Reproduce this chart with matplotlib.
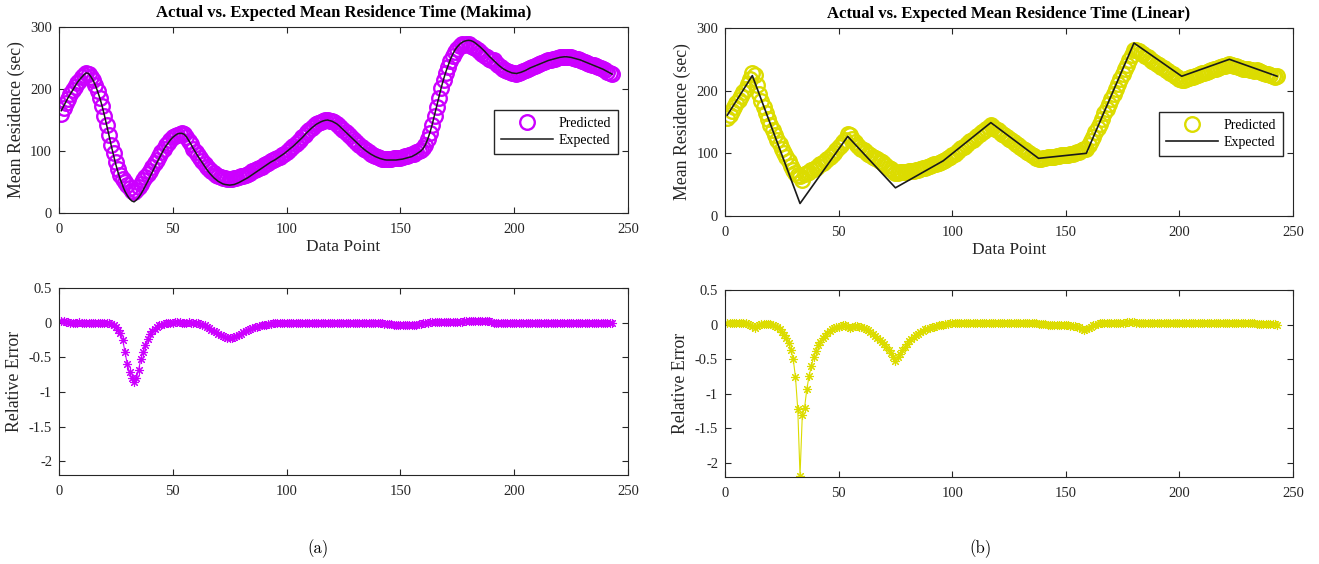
import numpy as np
import matplotlib.pyplot as plt
from matplotlib.ticker import FuncFormatter

plt.rcParams['font.family'] = ['Liberation Serif', 'DejaVu Serif']
plt.rcParams['axes.unicode_minus'] = False

# data point index 1..243
x_pts = list(range(1, 244))

# ---- (a) makima ----
makima_expected = [
    165, 172, 179, 186, 192, 198, 204, 210, 215, 219,
    223, 226, 225, 220, 214, 206, 196, 185, 172, 157,
    141, 125, 108, 93, 78, 65, 54, 44, 35, 28.5,
    23, 19.5, 18, 21, 25, 30.5, 37, 44, 51, 58.5,
    66, 73.5, 81, 88, 95, 102, 108, 113, 118, 122,
    125, 127.5, 128.5, 128.5, 127, 123, 117, 111, 104, 98,
    92, 86.5, 81, 75.5, 70, 65, 61, 57, 54, 51,
    49, 47, 46, 45.5, 45, 45.5, 46, 47.5, 49, 51,
    53, 55, 57, 59.5, 62, 64.5, 67, 69.5, 72, 74.5,
    77, 79.5, 82, 84, 86, 88.5, 91, 93.5, 96, 99,
    102, 105, 108, 111.5, 115, 118.5, 122, 126, 130, 133.5,
    137, 140, 143, 145, 147, 148.5, 149.5, 150, 149, 148,
    146, 144, 141, 137.5, 134, 130.5, 127, 123.5, 120, 116.5,
    113, 109.5, 106, 103, 100, 97.5, 95, 93, 91, 89.5,
    88, 87, 86, 85.5, 85.5, 85.5, 85.5, 85.5, 86, 86.5,
    87, 88, 89, 90, 91, 93, 95, 97.5, 100, 104,
    110, 119, 130, 143, 158, 173, 188, 203, 216, 228,
    238, 248, 256, 263, 268, 272, 275, 277, 278, 278.5,
    278, 276.5, 274, 271, 268, 264.5, 261, 257, 253, 249.5,
    246, 242.5, 239, 236, 233, 231, 229, 227.5, 226, 225.5,
    225, 226, 227, 228.5, 230, 232, 234, 235.5, 237, 238.5,
    240, 241.5, 243, 244.5, 246, 247, 248, 249, 250, 251,
    251.5, 252, 252, 251.5, 251, 250, 249, 248, 247, 245.5,
    244, 242.5, 241, 239.5, 238, 236.5, 235, 233.5, 232, 230,
    228, 226, 224]

makima_predicted = [
    160, 168.6, 177.2, 184.1, 192, 198, 204, 210, 212.9, 219,
    223, 226, 225, 220, 214, 206, 196, 185, 172, 157,
    142.4, 126.3, 110.2, 96.7, 82.7, 71.5, 62.1, 55, 49.7, 45.6,
    39.6, 35.1, 33.5, 37.8, 42, 46.4, 52.5, 58.5, 63.2, 68.4,
    73.9, 80.1, 85.9, 91.5, 97.9, 104, 109.1, 113, 118, 122,
    123.8, 126.2, 127.2, 128.5, 127, 123, 115.8, 111, 104, 98,
    92.9, 88.2, 83.4, 78.5, 74.2, 70.2, 67.1, 63.8, 61.6, 59.2,
    57.8, 56.4, 55.7, 55.5, 54.9, 55.5, 55.7, 57, 57.8, 59.2,
    60.4, 61.6, 63.3, 64.9, 67, 69, 71, 73, 74.9, 76.7,
    79.3, 81.1, 83.6, 84.8, 86.9, 88.5, 91, 93.5, 96, 99,
    102, 105, 108, 111.5, 115, 118.5, 122, 126, 130, 133.5,
    137, 140, 143, 145, 147, 148.5, 149.5, 150, 149, 148,
    146, 144, 141, 137.5, 134, 130.5, 127, 123.5, 120, 116.5,
    113, 109.5, 106, 103, 101, 98.5, 96, 93.9, 91.9, 90.4,
    88.9, 87.9, 87.7, 87.2, 87.2, 87.2, 88.1, 88.1, 88.6, 89.1,
    90.5, 91.5, 92.6, 93.6, 94.6, 95.8, 97.9, 99.5, 102, 105,
    110, 119, 128.7, 141.6, 156.4, 171.3, 186.1, 201, 213.8, 225.7,
    235.6, 245.5, 253.4, 260.4, 265.3, 269.3, 272.3, 271.5, 272.4, 272.9,
    269.7, 268.2, 265.8, 262.9, 260, 256.6, 253.2, 251.9, 248, 247,
    246, 242.5, 239, 236, 233, 231, 229, 227.5, 226, 225.5,
    225, 226, 227, 228.5, 230, 232, 234, 235.5, 237, 238.5,
    240, 241.5, 243, 244.5, 246, 247, 248, 249, 250, 251,
    251.5, 252, 252, 251.5, 251, 250, 249, 248, 247, 245.5,
    244, 242.5, 241, 239.5, 238, 236.5, 235, 233.5, 232, 230,
    228, 226, 224]

makima_error = [
    0.03, 0.02, 0.01, 0.01, 0.0, 0.0, 0.0, 0.0, 0.01, 0.0,
    0.0, 0.0, 0.0, 0.0, 0.0, 0.0, 0.0, 0.0, 0.0, 0.0,
    -0.01, -0.01, -0.02, -0.04, -0.06, -0.1, -0.15, -0.25, -0.42, -0.6,
    -0.72, -0.8, -0.86, -0.8, -0.68, -0.52, -0.42, -0.33, -0.24, -0.17,
    -0.12, -0.09, -0.06, -0.04, -0.03, -0.02, -0.01, 0.0, 0.0, 0.0,
    0.01, 0.01, 0.01, 0.0, 0.0, 0.0, 0.01, 0.0, 0.0, 0.0,
    -0.01, -0.02, -0.03, -0.04, -0.06, -0.08, -0.1, -0.12, -0.14, -0.16,
    -0.18, -0.2, -0.21, -0.22, -0.22, -0.22, -0.21, -0.2, -0.18, -0.16,
    -0.14, -0.12, -0.11, -0.09, -0.08, -0.07, -0.06, -0.05, -0.04, -0.03,
    -0.03, -0.02, -0.02, -0.01, -0.01, 0.0, 0.0, 0.0, 0.0, 0.0,
    0.0, 0.0, 0.0, 0.0, 0.0, 0.0, 0.0, 0.0, 0.0, 0.0,
    0.0, 0.0, 0.0, 0.0, 0.0, 0.0, 0.0, 0.0, 0.0, 0.0,
    0.0, 0.0, 0.0, 0.0, 0.0, 0.0, 0.0, 0.0, 0.0, 0.0,
    0.0, 0.0, 0.0, 0.0, -0.01, -0.01, -0.01, -0.01, -0.01, -0.01,
    -0.01, -0.01, -0.02, -0.02, -0.02, -0.02, -0.03, -0.03, -0.03, -0.03,
    -0.04, -0.04, -0.04, -0.04, -0.04, -0.03, -0.03, -0.02, -0.02, -0.01,
    0.0, 0.0, 0.01, 0.01, 0.01, 0.01, 0.01, 0.01, 0.01, 0.01,
    0.01, 0.01, 0.01, 0.01, 0.01, 0.01, 0.01, 0.02, 0.02, 0.02,
    0.03, 0.03, 0.03, 0.03, 0.03, 0.03, 0.03, 0.02, 0.02, 0.01,
    0.0, 0.0, 0.0, 0.0, 0.0, 0.0, 0.0, 0.0, 0.0, 0.0,
    0.0, 0.0, 0.0, 0.0, 0.0, 0.0, 0.0, 0.0, 0.0, 0.0,
    0.0, 0.0, 0.0, 0.0, 0.0, 0.0, 0.0, 0.0, 0.0, 0.0,
    0.0, 0.0, 0.0, 0.0, 0.0, 0.0, 0.0, 0.0, 0.0, 0.0,
    0.0, 0.0, 0.0, 0.0, 0.0, 0.0, 0.0, 0.0, 0.0, 0.0,
    0.0, 0.0, 0.0]

# ---- (b) linear ----
linear_knot_x = [1, 12, 33, 54, 75, 96, 117, 138, 159, 180, 201, 222, 243]
linear_expected = [161, 224, 20, 127, 45, 88, 149, 92, 100, 276, 223, 250, 223]

linear_predicted = [
    156.2, 161.7, 167.3, 174.6, 180.2, 185.8, 191.5, 197.1, 202.7, 210.4,
    218.3, 228.5, 225, 208.7, 194.9, 183.2, 173.6, 164, 154.4, 144.8,
    136.6, 129.4, 121.8, 114.9, 107.5, 101.2, 94, 87.1, 80.1, 73.7,
    69.3, 65.9, 63.6, 58, 66.4, 68.1, 70.3, 72.8, 74.4, 76.9,
    79, 82.4, 85.2, 88.3, 90.8, 94, 97.7, 101.2, 105.6, 109.8,
    113.9, 118, 121.9, 130.8, 129.3, 122.8, 117.6, 113.6, 110.7, 107.7,
    104.7, 101.5, 99.3, 96.8, 94.9, 92.9, 90.7, 88.2, 85.5, 82.6,
    80, 77.1, 74.4, 71.9, 68.9, 69.1, 69.7, 70, 70.8, 70.7,
    71.1, 71.8, 72.5, 72.9, 74, 74.9, 75.9, 76.6, 78.1, 79.5,
    80.9, 82.2, 83.5, 84.8, 86, 88, 90, 92.9, 94.8, 97.6,
    99.4, 102.2, 105.1, 107.9, 110.7, 113.5, 116.3, 119.2, 122, 124.8,
    127.7, 130.5, 133.3, 136.1, 138.9, 141.7, 144.5, 141.9, 139.3, 136.7,
    134, 131.3, 128.7, 126.1, 123.5, 120.9, 118.2, 115.5, 112.9, 110.3,
    107.7, 105.1, 102.4, 100.8, 98.1, 95.5, 92.8, 91.1, 91.5, 91.9,
    92.2, 93.5, 93.9, 94.3, 94.7, 95, 95.4, 96.8, 97.2, 97.6,
    98, 99.2, 99.7, 100.1, 101.5, 102.9, 105.2, 107.6, 107, 113.8,
    120.3, 126.4, 133.5, 140.5, 147.3, 155.5, 163.7, 170.1, 178.3, 186.4,
    194.6, 202.6, 210.8, 218.9, 227.1, 235.2, 240.9, 248.8, 256.9, 265,
    265.3, 262.9, 260.3, 257.9, 255.5, 253.1, 250.6, 248.1, 245.7, 243.3,
    240.8, 238.3, 235.9, 233.5, 231, 228.5, 226.1, 223.7, 221.2, 218.7,
    216.3, 217.6, 218.8, 220.1, 221.3, 222.5, 223.8, 225, 226.3, 227.6,
    228.8, 230, 231.2, 232.5, 233.8, 235, 236.3, 237.6, 238.7, 240,
    241.2, 242.5, 241.2, 240, 238.7, 237.6, 236.3, 235, 233.8, 234.9,
    233.6, 232.4, 231.2, 232.3, 231, 229.7, 228.4, 227.1, 225.8, 224.6,
    223.3, 222.1, 223]

linear_error = [
    0.03, 0.03, 0.03, 0.02, 0.02, 0.02, 0.02, 0.02, 0.02, 0.01,
    0.0, -0.02, -0.05, -0.02, 0.0, 0.01, 0.01, 0.01, 0.01, 0.01,
    0.0, -0.02, -0.04, -0.07, -0.1, -0.15, -0.2, -0.27, -0.36, -0.5,
    -0.76, -1.22, -2.18, -1.31, -1.2, -0.93, -0.74, -0.6, -0.47, -0.38,
    -0.3, -0.25, -0.2, -0.16, -0.12, -0.09, -0.07, -0.05, -0.04, -0.03,
    -0.02, -0.01, 0.0, -0.03, -0.05, -0.03, -0.02, -0.02, -0.03, -0.04,
    -0.05, -0.06, -0.08, -0.1, -0.13, -0.16, -0.19, -0.22, -0.25, -0.28,
    -0.32, -0.36, -0.41, -0.47, -0.53, -0.47, -0.42, -0.37, -0.33, -0.28,
    -0.24, -0.21, -0.18, -0.15, -0.13, -0.11, -0.09, -0.07, -0.06, -0.05,
    -0.04, -0.03, -0.02, -0.01, 0.0, 0.0, 0.01, 0.01, 0.02, 0.02,
    0.03, 0.03, 0.03, 0.03, 0.03, 0.03, 0.03, 0.03, 0.03, 0.03,
    0.03, 0.03, 0.03, 0.03, 0.03, 0.03, 0.03, 0.03, 0.03, 0.03,
    0.03, 0.03, 0.03, 0.03, 0.03, 0.03, 0.03, 0.03, 0.03, 0.03,
    0.03, 0.03, 0.03, 0.02, 0.02, 0.02, 0.02, 0.01, 0.01, 0.01,
    0.01, 0.0, 0.0, 0.0, 0.0, 0.0, 0.0, -0.01, -0.01, -0.01,
    -0.01, -0.02, -0.02, -0.02, -0.03, -0.04, -0.06, -0.08, -0.07, -0.05,
    -0.03, -0.01, 0.0, 0.01, 0.02, 0.02, 0.02, 0.03, 0.03, 0.03,
    0.03, 0.03, 0.03, 0.03, 0.03, 0.03, 0.04, 0.04, 0.04, 0.04,
    0.03, 0.03, 0.03, 0.03, 0.03, 0.03, 0.03, 0.03, 0.03, 0.03,
    0.03, 0.03, 0.03, 0.03, 0.03, 0.03, 0.03, 0.03, 0.03, 0.03,
    0.03, 0.03, 0.03, 0.03, 0.03, 0.03, 0.03, 0.03, 0.03, 0.03,
    0.03, 0.03, 0.03, 0.03, 0.03, 0.03, 0.03, 0.03, 0.03, 0.03,
    0.03, 0.03, 0.03, 0.03, 0.03, 0.03, 0.03, 0.03, 0.03, 0.02,
    0.02, 0.02, 0.02, 0.01, 0.01, 0.01, 0.01, 0.01, 0.01, 0.01,
    0.01, 0.01, 0.0]

magenta = '#CC00FF'
yellow = '#DCDC00'
dark = '#262626'
asterisk = (8, 2, 0)   # MATLAB style '*'

fig = plt.figure(figsize=(13.19, 5.64), dpi=100)
ax_a_top = fig.add_axes([0.0447, 0.6223, 0.4314, 0.3298])
ax_a_bot = fig.add_axes([0.0447, 0.1578, 0.4314, 0.3316])
ax_b_top = fig.add_axes([0.5497, 0.6170, 0.4306, 0.3334])
ax_b_bot = fig.add_axes([0.5497, 0.1543, 0.4306, 0.3316])


def style(ax):
    ax.set_xlim(0, 250)
    ax.set_xticks([0, 50, 100, 150, 200, 250])
    ax.tick_params(direction='in', top=True, right=True, length=4, width=0.8,
                   labelsize=10.5, colors=dark)
    ax.tick_params(axis='x', pad=7)
    ax.tick_params(axis='y', pad=5)
    for s in ax.spines.values():
        s.set_color(dark)
        s.set_linewidth(0.8)


def top_panel(ax, title, color, px, py, ex, ey, lw):
    ax.plot(px, py, 'o', ls='none', mfc='none', mec=color, ms=10.5, mew=1.7,
            label='Predicted')
    ax.plot(ex, ey, '-', color='#1a1a1a', lw=lw, label='Expected')
    style(ax)
    ax.set_ylim(0, 300)
    ax.set_yticks([0, 100, 200, 300])
    ax.set_title(title, fontsize=12, fontweight='bold', pad=7)
    ax.set_xlabel('Data Point', fontsize=12.5, color=dark, labelpad=2)
    ax.set_ylabel('Mean Residence (sec)', fontsize=12.8, color=dark, labelpad=4)
    ax.legend(loc='upper right', bbox_to_anchor=(0.982, 0.554), borderaxespad=0,
              fontsize=10, frameon=True, fancybox=False, edgecolor=dark,
              framealpha=1, handlelength=3.7, handletextpad=0.4,
              labelspacing=0.3, borderpad=0.5, numpoints=1)


def bottom_panel(ax, color, ex, ey):
    ax.plot(ex, ey, '-', color=color, lw=0.8, marker=asterisk, ms=6.5, mew=0.8)
    style(ax)
    ax.set_ylim(-2.2, 0.5)
    ax.set_yticks([-2, -1.5, -1, -0.5, 0, 0.5])
    ax.yaxis.set_major_formatter(FuncFormatter(lambda v, p: '%g' % v))
    ax.set_ylabel('Relative Error', fontsize=12.8, color=dark, labelpad=4)


top_panel(ax_a_top, 'Actual vs. Expected Mean Residence Time (Makima)', magenta,
          x_pts, makima_predicted, x_pts, makima_expected, 1.1)
bottom_panel(ax_a_bot, magenta, x_pts, makima_error)

top_panel(ax_b_top, 'Actual vs. Expected Mean Residence Time (Linear)', yellow,
          x_pts, linear_predicted, linear_knot_x, linear_expected, 1.2)
bottom_panel(ax_b_bot, yellow, x_pts, linear_error)

fig.text(0.241, 0.027, '(a)', family='cmr10', fontsize=12, ha='center', va='center')
fig.text(0.743, 0.027, '(b)', family='cmr10', fontsize=12, ha='center', va='center')

fig.savefig('out.png', dpi=100)
